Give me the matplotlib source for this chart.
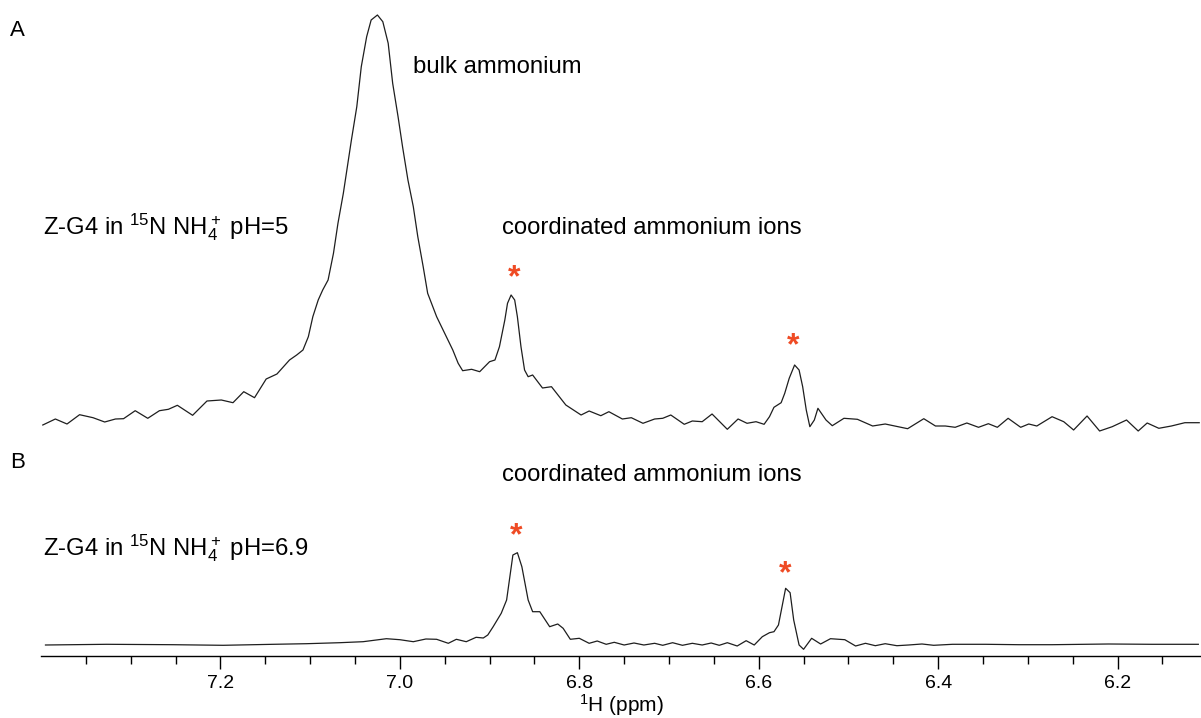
import numpy as np
import matplotlib
matplotlib.use("Agg")
import matplotlib.pyplot as plt
from matplotlib.ticker import FixedLocator

plt.rcParams["font.family"] = ["Liberation Sans", "DejaVu Sans"]
plt.rcParams["mathtext.fontset"] = "custom"
plt.rcParams["mathtext.rm"] = "Liberation Sans"
plt.rcParams["mathtext.it"] = "Liberation Sans:italic"
plt.rcParams["mathtext.bf"] = "Liberation Sans:bold"

# Spectre A : Z-G4 dans 15N NH4+ pH=5 (intensite arbitraire)
ppm_a = [7.398, 7.384, 7.371, 7.357, 7.342, 7.329, 7.317, 7.308, 7.295, 7.281,
         7.268, 7.258, 7.248, 7.231, 7.215, 7.199, 7.186, 7.174, 7.162, 7.149,
         7.137, 7.123, 7.115, 7.108, 7.102, 7.097, 7.091, 7.086, 7.080, 7.074,
         7.069, 7.063, 7.058, 7.054, 7.048, 7.043, 7.037, 7.032, 7.025, 7.019,
         7.013, 7.008, 7.002, 6.997, 6.991, 6.985, 6.980, 6.974, 6.969, 6.959,
         6.950, 6.941, 6.935, 6.930, 6.920, 6.911, 6.900, 6.894, 6.889, 6.883,
         6.880, 6.876, 6.872, 6.869, 6.865, 6.861, 6.857, 6.852, 6.841, 6.831,
         6.815, 6.798, 6.789, 6.776, 6.767, 6.752, 6.742, 6.729, 6.716, 6.707,
         6.698, 6.683, 6.674, 6.663, 6.652, 6.635, 6.623, 6.613, 6.603, 6.594,
         6.588, 6.583, 6.575, 6.571, 6.566, 6.560, 6.555, 6.551, 6.547, 6.543,
         6.538, 6.534, 6.525, 6.518, 6.505, 6.490, 6.473, 6.459, 6.434, 6.416,
         6.403, 6.392, 6.381, 6.368, 6.355, 6.344, 6.334, 6.322, 6.308, 6.299,
         6.290, 6.273, 6.260, 6.249, 6.234, 6.220, 6.206, 6.190, 6.177, 6.167,
         6.154, 6.140, 6.125, 6.109]
int_a = [3, 9, 4, 13.3, 10.3, 6, 9, 9.3, 17.3, 9.7,
         17.3, 18.7, 22.7, 12.7, 27, 28, 25.3, 36.3, 30.3, 49,
         54, 68, 73, 78, 91.3, 111.3, 128, 138, 148, 174.7,
         204.7, 234.7, 264.7, 288, 321.3, 361.3, 391.3, 408, 413, 406.3,
         384.7, 344.7, 311.3, 281.3, 248, 221.3, 191.3, 161.3, 134.7, 111.3,
         94.7, 78, 64.7, 57.3, 58.7, 56.3, 66.3, 68, 81.3, 108,
         124.7, 133, 128, 111.3, 81.3, 58, 51.3, 53, 40, 41.3,
         23, 13, 17, 12.3, 16.3, 9, 10.3, 4.7, 9, 9.7,
         13, 3.7, 7, 6.3, 14, -1.3, 9, 4.7, 6.3, 3.7,
         11.3, 20.7, 25.3, 34.7, 49.7, 63, 58, 41.3, 18, 1.3,
         8, 19.7, 8, 2.3, 9.7, 8.7, 2, 4, -0.7, 9.3,
         2, 2, 0.7, 5, 0.7, 4.3, 0.7, 9.7, 0.7, 4,
         2, 11.3, 6.3, -2, 12, -3, 1.3, 8, -3, 5,
         -0.3, 2, 5.3, 5.3]

# Spectre B : Z-G4 dans 15N NH4+ pH=6.9
ppm_b = [7.395, 7.327, 7.253, 7.197, 7.141, 7.104, 7.067, 7.041, 7.015, 7.000,
         6.985, 6.971, 6.959, 6.946, 6.937, 6.926, 6.915, 6.907, 6.902, 6.896,
         6.887, 6.881, 6.874, 6.869, 6.864, 6.857, 6.852, 6.844, 6.833, 6.824,
         6.818, 6.810, 6.800, 6.789, 6.780, 6.770, 6.761, 6.750, 6.739, 6.728,
         6.716, 6.707, 6.696, 6.685, 6.674, 6.663, 6.653, 6.644, 6.635, 6.624,
         6.614, 6.605, 6.596, 6.588, 6.583, 6.578, 6.570, 6.565, 6.561, 6.555,
         6.550, 6.541, 6.531, 6.520, 6.504, 6.492, 6.481, 6.470, 6.459, 6.446,
         6.433, 6.418, 6.405, 6.384, 6.347, 6.310, 6.273, 6.210, 6.162, 6.110]
int_b = [0, 0.7, 0.3, -0.3, 0.7, 1.3, 2.3, 3.3, 6.3, 5.3,
         3.3, 6, 5.7, 1.7, 5.7, 3.3, 7.7, 7, 10, 18.3,
         31.7, 45, 90, 92.3, 78.3, 45, 33.3, 33.3, 18.3, 21,
         16.7, 5.7, 6.7, 1.7, 4, 0.7, 2.7, 0, 2, 0,
         1.7, -0.3, 2.3, -0.3, 1.7, 0, 2, -0.3, 2.3, -1,
         4.3, 0, 8.3, 12.3, 13.3, 20, 56.7, 52.3, 25, 0,
         -4.3, 6.7, 1, 6.3, 5.3, -1, 1.7, -0.7, 1.3, -0.7,
         0, 1, -0.3, 0.7, 0.7, 0.3, 0.3, 1, 0.7, 0.7]

star_ppm_a = [6.873, 6.562]
star_int_a = [150, 82]
star_ppm_b = [6.870, 6.570]
star_int_b = [109, 71]

major_ticks = [7.2, 7.0, 6.8, 6.6, 6.4, 6.2]
minor_ticks = [7.35, 7.3, 7.25, 7.15, 7.1, 7.05, 6.95, 6.9, 6.85, 6.75, 6.7, 6.65,
               6.55, 6.5, 6.45, 6.35, 6.3, 6.25, 6.15]

fig = plt.figure(figsize=(12.01, 7.18), dpi=100)
W, H = 1201, 718
ax_a = fig.add_axes([41 / W, 1 - 440 / H, 1160 / W, 440 / H])
ax_b = fig.add_axes([41 / W, 1 - 656 / H, 1160 / W, 206 / H], sharex=ax_a)

line_kw = dict(color="#1e1e1e", lw=0.9)
ax_a.plot(ppm_a, int_a, **line_kw)
ax_b.plot(ppm_b, int_b, **line_kw)

ax_a.set_xlim(7.400, 6.107)
ax_a.set_ylim(-12, 428)
ax_b.set_ylim(-11, 195)

for ax in (ax_a, ax_b):
    for s in ax.spines.values():
        s.set_visible(False)
    ax.set_yticks([])
    ax.patch.set_alpha(0)

ax_b.xaxis.set_major_locator(FixedLocator(major_ticks))
ax_b.xaxis.set_minor_locator(FixedLocator(minor_ticks))
ax_a.tick_params(axis="x", which="both", bottom=False, labelbottom=False)

ax_b.spines["bottom"].set_visible(True)
ax_b.spines["bottom"].set_linewidth(1.0)
ax_b.tick_params(axis="x", which="major", length=9, width=1.0, labelsize=14, pad=5)
ax_b.tick_params(axis="x", which="minor", length=6, width=1.0)

# titre de l'axe x, place a la main pour ne pas sortir de l'image
fig.text(621 / W, 1 - 705 / H, r"$^{1}$H (ppm)", fontsize=15, ha="center", va="center")

red = "#EF4B24"
for x, y in zip(star_ppm_a, star_int_a):
    ax_a.text(x, y, "*", color=red, fontsize=23, fontweight="bold", ha="center", va="center")
for x, y in zip(star_ppm_b, star_int_b):
    ax_b.text(x, y, "*", color=red, fontsize=23, fontweight="bold", ha="center", va="center")

txt = dict(fontsize=17.2, color="black")
ax_a.text(6.985, 361, "bulk ammonium", va="center", ha="left", **txt)
ax_a.text(6.886, 200, "coordinated ammonium ions", va="center", ha="left", **txt)
ax_a.text(7.398, 201, r"Z-G4 in $^{15}$N NH$_4^+$ pH=5", va="center", ha="left", **txt)
ax_b.text(6.886, 170, "coordinated ammonium ions", va="center", ha="left", **txt)
ax_b.text(7.398, 97, r"Z-G4 in $^{15}$N NH$_4^+$ pH=6.9", va="center", ha="left", **txt)

fig.text(10 / W, 1 - 30 / H, "A", fontsize=16, va="center", ha="left")
fig.text(10 / W, 1 - 462 / H, "B", fontsize=16, va="center", ha="left")

fig.savefig("out.png", dpi=100)
